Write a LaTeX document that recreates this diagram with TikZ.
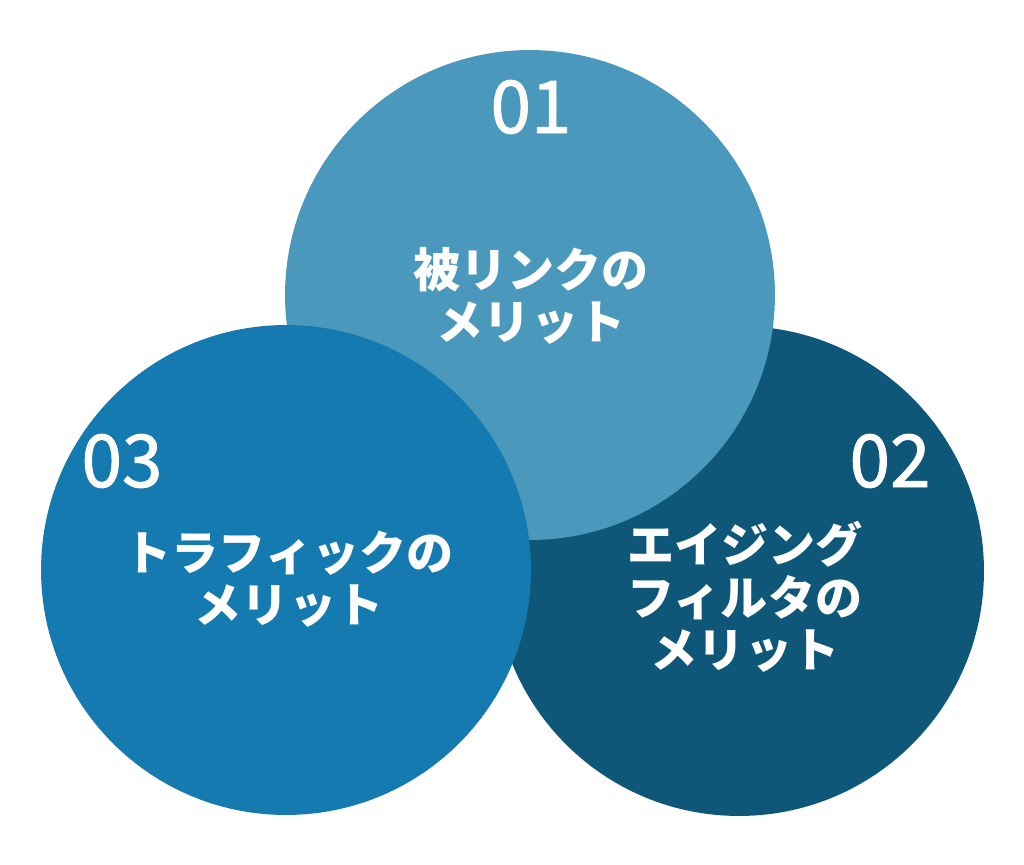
\documentclass[tikz,border=0pt]{standalone}
\usepackage{fontspec}
\newfontfamily\jp{Noto Sans CJK JP}
\newfontfamily\jpnum[FakeBold=1.3]{Noto Sans CJK JP}
\usepackage{xcolor}
\definecolor{lightblue}{HTML}{4B98BD}
\definecolor{darkblue}{HTML}{0F5778}
\definecolor{midblue}{HTML}{147AAF}
\tikzset{
  bubble/.style={circle, minimum size=9.8cm, inner sep=0pt},
  num/.style={text=white, anchor=base, font=\jpnum\fontsize{41.5}{41.5}\selectfont},
  label/.style={text=white, align=center, inner sep=0pt, font=\jp\bfseries\fontsize{26.8}{29.8}\selectfont}
}

\begin{document}
\begin{tikzpicture}[x=0.02cm, y=-0.02cm]
  \useasboundingbox (0,0) rectangle (1024,865);
  \node[bubble, fill=darkblue] (aging) at (739,571) {};
  \node[bubble, fill=lightblue] (link) at (530,295) {};
  \node[bubble, fill=midblue] (traffic) at (286,570) {};
  \node[num] (n01) at (531,133) {01};
  \node[num] (n02) at (890,487) {02};
  \node[num] (n03) at (122,487) {03};
  \node[label] (t01) at (531,296) {被リンクの\\メリット};
  \node[label] (t02) at (745,597) {エイジング\\フィルタの\\メリット};
  \node[label] (t03) at (289,579) {トラフィックの\\メリット};
\end{tikzpicture}
\end{document}
